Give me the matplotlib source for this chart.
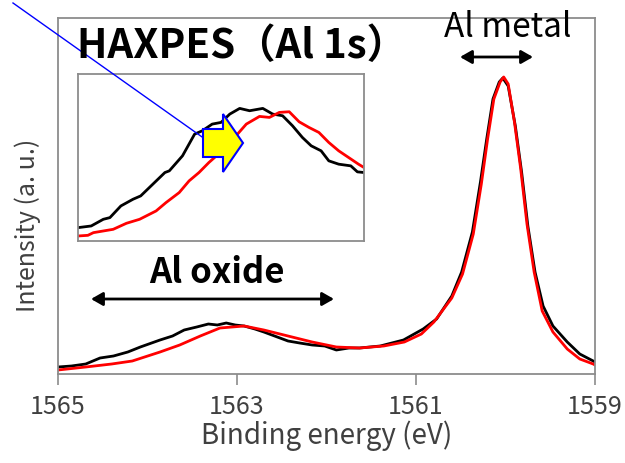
import matplotlib
matplotlib.use('Agg')
import matplotlib.pyplot as plt
from matplotlib.patches import Polygon, FancyArrowPatch
from matplotlib.lines import Line2D

# main spectrum, black (before) and red (after)
e_black = [1565.00, 1564.85, 1564.69, 1564.53, 1564.38, 1564.22, 1564.08, 1563.86, 1563.72,
           1563.59, 1563.45, 1563.32, 1563.22, 1563.12, 1563.02, 1562.92, 1562.80, 1562.70,
           1562.55, 1562.43, 1562.30, 1562.16, 1562.02, 1561.89, 1561.75, 1561.63, 1561.40,
           1561.14, 1560.92, 1560.77, 1560.60, 1560.49, 1560.37, 1560.28, 1560.21, 1560.14,
           1560.07, 1560.03, 1559.97, 1559.89, 1559.82, 1559.75, 1559.67, 1559.58, 1559.47,
           1559.31, 1559.17, 1559.02, 1559.00]
i_black = [7, 8, 10, 16, 18, 22, 27, 34, 38, 44, 47, 50, 49, 51, 49, 48, 45, 42, 37, 33, 31, 29,
           28, 24, 26, 26, 28, 34, 45, 55, 78, 102, 142, 192, 235, 275, 292, 296, 288, 248, 202,
           148, 102, 68, 48, 32, 20, 13, 12]

e_red = [1565.00, 1564.69, 1564.40, 1564.17, 1563.86, 1563.64, 1563.41, 1563.19, 1562.92,
         1562.70, 1562.43, 1562.16, 1561.89, 1561.63, 1561.36, 1561.13, 1560.94, 1560.80,
         1560.60, 1560.48, 1560.36, 1560.27, 1560.20, 1560.13, 1560.06, 1560.02, 1559.97,
         1559.90, 1559.83, 1559.76, 1559.68, 1559.59, 1559.47, 1559.31, 1559.17, 1559.02,
         1559.00]
i_red = [4, 7, 10, 13, 22, 29, 38, 46, 48, 44, 38, 32, 27, 26, 28, 32, 40, 52, 76, 100, 140,
         190, 235, 275, 292, 297, 290, 252, 205, 150, 102, 63, 42, 25, 15, 10, 9]

# inset (oxide peak, zoomed)
ins_e_black = [1564.60, 1564.48, 1564.37, 1564.31, 1564.21, 1564.10, 1564.03, 1563.92, 1563.81,
               1563.77, 1563.65, 1563.54, 1563.47, 1563.38, 1563.30, 1563.22, 1563.13, 1563.04,
               1562.92, 1562.83, 1562.74, 1562.65, 1562.56, 1562.48, 1562.39, 1562.32, 1562.23,
               1562.12, 1562.06, 1562.00]
ins_i_black = [40, 45, 65, 70, 105, 125, 135, 170, 205, 210, 255, 320, 330, 350, 355, 380, 397,
               390, 397, 380, 375, 345, 310, 285, 270, 240, 230, 225, 207, 205]
ins_e_red = [1564.60, 1564.51, 1564.46, 1564.28, 1564.16, 1564.04, 1563.89, 1563.80, 1563.68,
             1563.59, 1563.50, 1563.41, 1563.29, 1563.19, 1563.07, 1562.95, 1562.86, 1562.77,
             1562.68, 1562.59, 1562.50, 1562.41, 1562.32, 1562.23, 1562.14, 1562.05, 1562.00]
ins_i_red = [15, 17, 25, 35, 53, 65, 90, 115, 145, 180, 205, 235, 270, 305, 350, 373, 370, 385,
             387, 357, 340, 325, 295, 270, 250, 230, 220]

xticks = [1565, 1563, 1561, 1559]

plt.rcParams['font.family'] = ['Noto Sans CJK JP', 'DejaVu Sans']
W, H = 625, 464
gray = '#8c8c8c'
txt = '#404040'

def fx(px):
    return px / W

def fy(py):
    return 1 - py / H

fig = plt.figure(figsize=(6.25, 4.64), dpi=100)
ax = fig.add_axes([fx(58), fy(375), fx(595) - fx(58), fy(19) - fy(375)])
ax.plot(e_black, i_black, color='black', lw=2)
ax.plot(e_red, i_red, color='red', lw=2)
ax.set_xlim(1565, 1559)
ax.set_ylim(0, 356)
ax.set_xticks(xticks)
ax.set_xticklabels([str(t) for t in xticks], fontsize=18, color=txt)
ax.set_yticks([])
ax.tick_params(axis='x', direction='out', length=8, width=1.2, color=gray, pad=6)
for s in ax.spines.values():
    s.set_color(gray)
    s.set_linewidth(1.3)
ax.set_xlabel('Binding energy (eV)', fontsize=20, color=txt, labelpad=0)
ax.set_ylabel('Intensity (a. u.)', fontsize=18, color=txt)
ax.yaxis.set_label_coords(-0.031, 0.42)

# inset
axi = fig.add_axes([fx(78), fy(242), fx(364) - fx(78), fy(75) - fy(242)])
axi.plot(ins_e_black, ins_i_black, color='black', lw=2)
axi.plot(ins_e_red, ins_i_red, color='red', lw=2)
axi.set_xlim(1564.6, 1562.0)
axi.set_ylim(0, 500)
axi.set_xticks([])
axi.set_yticks([])
for s in axi.spines.values():
    s.set_color(gray)
    s.set_linewidth(1.3)

# texts
fig.text(fx(77), fy(58), 'HAXPES（Al 1s）', fontsize=29, fontweight='bold', va='baseline')
fig.text(fx(508), fy(37), 'Al metal', fontsize=24, ha='center', va='baseline')
fig.text(fx(217), fy(283), 'Al oxide', fontsize=25, fontweight='bold', ha='center', va='baseline')

# double arrows
for x0, x1, y in [(460, 533, 58), (91, 334, 300)]:
    fig.patches.append(FancyArrowPatch((fx(x0), fy(y)), (fx(x1), fy(y)), transform=fig.transFigure,
                                       arrowstyle='<|-|>,head_length=7,head_width=4',
                                       color='black', lw=2, shrinkA=0, shrinkB=0))

# blue pointer line
fig.lines.append(Line2D([fx(13), fx(212)], [fy(4), fy(145)], transform=fig.transFigure,
                        color='blue', lw=1))

# yellow block arrow
pts = [(203, 130), (223, 130), (223, 115), (243, 144), (223, 173), (223, 158), (203, 158)]
fig.patches.append(Polygon([(fx(a), fy(b)) for a, b in pts], closed=True, transform=fig.transFigure,
                           facecolor='yellow', edgecolor='blue', lw=1.5, zorder=5))

fig.savefig('out.png', dpi=100)
